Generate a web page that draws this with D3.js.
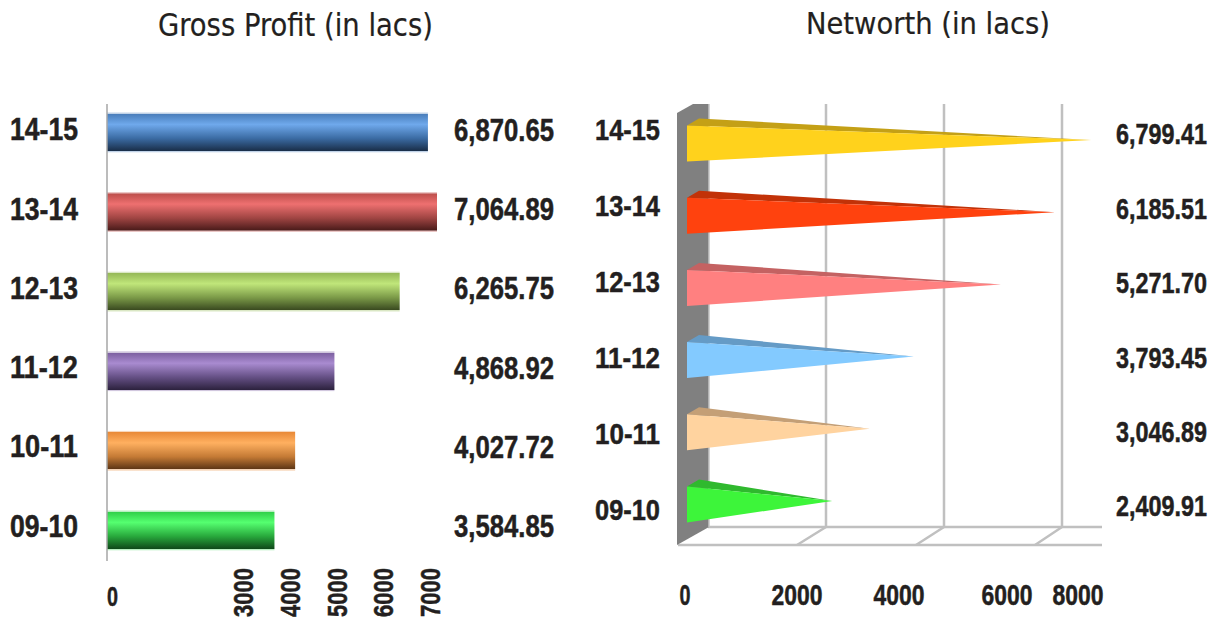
<!DOCTYPE html>
<html>
<head>
<meta charset="utf-8">
<script src="https://cdn.jsdelivr.net/npm/d3@7/dist/d3.min.js"></script>
<style>
  html, body { margin: 0; background: #fff; }
  svg { display: block; }
  .title { font-family: "DejaVu Sans Condensed", "DejaVu Sans", sans-serif; fill: #231f20; stroke: #231f20; stroke-width: 0.2; }
  .lab { font-family: "Liberation Sans Narrow", "Liberation Sans", sans-serif; font-weight: 700; fill: #231f20; stroke: #231f20; stroke-width: 0.5; }
</style>
</head>
<body>
<svg id="chart" width="1219" height="619"></svg>
<script>
// Financial years, listed from the top row down
const years = ["14-15", "13-14", "12-13", "11-12", "10-11", "09-10"];

// Gross profit and net worth, in lacs
const grossProfit = [6870.65, 7064.89, 6265.75, 4868.92, 4027.72, 3584.85];
const networth = [6799.41, 6185.51, 5271.70, 3793.45, 3046.89, 2409.91];

// Axis tick labels
const grossTicks = [0, 3000, 4000, 5000, 6000, 7000];
const netTicks = [0, 2000, 4000, 6000, 8000];

// Cylinder shading of each gross profit bar: edge, light, mid, dark
const barShades = [
  ["#4a7ebb", "#6fa9ec", "#3b6ba3", "#1a2f4a"],
  ["#bd4f4c", "#ee7070", "#a04543", "#4a1b1a"],
  ["#96b957", "#c0e67a", "#7b9a48", "#3a4a20"],
  ["#7c5fa0", "#a98bd0", "#655085", "#2e2340"],
  ["#e98a38", "#ffb060", "#c47a35", "#5c3515"],
  ["#30d04a", "#55ff70", "#28a83c", "#0f4a1a"]
];

// Front and top face colours of each cone
const coneFront = ["#ffd21c", "#ff420e", "#ff8080", "#83caff", "#ffd39f", "#3df53a"];
const coneTop = ["#c4a016", "#c23208", "#c46262", "#659bc6", "#c49f76", "#2fb92e"];

const svg = d3.select("#chart");
const defs = svg.append("defs");
const fmt = d3.format(",.2f");

// Places a text at a point, squeezed horizontally to a fixed width
function fitted(g, cls, x, y, txt, size, width, anchor, angle) {
  const t = g.append("text").attr("class", cls)
    .attr("font-size", size).attr("text-anchor", anchor || "start")
    .text(txt);
  const sx = width / t.node().getComputedTextLength();
  t.attr("transform", `translate(${x},${y}) rotate(${angle || 0}) scale(${sx},1)`);
  return t;
}

// Bold label whose digits are centred vertically on y
function label(g, x, y, txt, size, width, anchor) {
  return fitted(g, "lab", x, y, txt, size, width, anchor).attr("dy", "0.345em");
}

/* ---------- Gross profit: shaded horizontal bars ---------- */
const leftChart = svg.append("g");
const gpX = d3.scaleLinear().domain([0, 7064.89]).range([107, 437]);
const gpY = d3.scaleBand().domain(years).range([92.6, 570.2]).paddingInner(0.5).paddingOuter(0.25);
const gpLabelY = d3.scalePoint().domain(years).range([129.5, 526]);
const gpValueY = d3.scalePoint().domain(years).range([130.5, 526]);

fitted(leftChart, "title", 158, 36, "Gross Profit (in lacs)", 31.5, 275);

barShades.forEach((s, i) => {
  const g = defs.append("linearGradient").attr("id", "bar" + i)
    .attr("x1", 0).attr("y1", 0).attr("x2", 0).attr("y2", 1);
  const rim = d3.interpolateRgb(s[0], "#ffffff")(0.65);
  [[0, rim], [0.03, rim], [0.04, s[0]], [0.3, s[1]], [0.65, s[2]], [0.96, s[3]], [0.97, rim], [1, rim]]
    .forEach(([o, c]) => g.append("stop").attr("offset", o).attr("stop-color", c));
});

leftChart.selectAll("rect.bar").data(grossProfit).join("rect")
  .attr("class", "bar")
  .attr("x", gpX(0))
  .attr("y", (d, i) => gpY(years[i]))
  .attr("width", d => gpX(d) - gpX(0))
  .attr("height", gpY.bandwidth())
  .attr("fill", (d, i) => `url(#bar${i})`);

leftChart.append("line")
  .attr("x1", gpX(0)).attr("x2", gpX(0)).attr("y1", 104).attr("y2", 561)
  .attr("stroke", "#a6a6a6").attr("stroke-width", 1.5);

years.forEach((y, i) => {
  label(leftChart, 10, gpLabelY(y), y, 31, 68);
  label(leftChart, 454, gpValueY(y), fmt(grossProfit[i]), 31, 100);
});

grossTicks.forEach(t => {
  if (t === 0) {
    label(leftChart, gpX(0), 596, "0", 28, 11);
  } else {
    fitted(leftChart, "lab", gpX(t) - 4, 592.5, t, 28, 49, "middle", -90).attr("dy", "0.36em");
  }
});

/* ---------- Networth: 3D cones on a walled plot ---------- */
const rightChart = svg.append("g");
const wallX = d3.scaleLinear().domain([0, 2000]).range([708, 826]);  // back plane
const floorX = d3.scaleLinear().domain([0, 2000]).range([678, 797]); // front floor edge
const tipShift = -18;                                                // cone tips sit mid-depth
const coneY = d3.scalePoint().domain(years).range([143.5, 504.5]);
const netLabelY = d3.scalePoint().domain(years).range([130, 510]);
const netValueY = d3.scalePoint().domain(years).range([134, 506]);
const netTickX = d3.scaleLinear().domain(netTicks).range([685, 797, 899, 1007, 1078]);

const wallTop = 104, floorBack = 527, floorFront = 545, floorEnd = 1102;

fitted(rightChart, "title", 806, 34, "Networth (in lacs)", 31, 244);

// Gridlines on the back plane and their slants across the floor
const gridVals = [2000, 4000, 6000];
rightChart.selectAll("line.grid").data(gridVals).join("line").attr("class", "grid")
  .attr("x1", wallX).attr("x2", wallX).attr("y1", wallTop).attr("y2", floorBack)
  .attr("stroke", "#c0c0c0").attr("stroke-width", 2.5);
rightChart.selectAll("line.slant").data(gridVals).join("line").attr("class", "slant")
  .attr("x1", wallX).attr("x2", floorX).attr("y1", floorBack).attr("y2", floorFront)
  .attr("stroke", "#c0c0c0").attr("stroke-width", 2.5);
[floorBack, floorFront].forEach(y => rightChart.append("line")
  .attr("x1", y === floorBack ? wallX(0) : floorX(0)).attr("x2", floorEnd)
  .attr("y1", y).attr("y2", y)
  .attr("stroke", "#c0c0c0").attr("stroke-width", 2.5));

// Side wall
const lx = floorX(0) - 1, rx = wallX(0) + 1;
rightChart.append("path")
  .attr("d", `M${lx},113L${lx + 16},${wallTop}L${rx},${wallTop}L${rx},${floorBack}L${lx},${floorFront}Z`)
  .attr("fill", "#808080");
rightChart.append("line").attr("x1", rx).attr("x2", rx).attr("y1", wallTop).attr("y2", floorBack)
  .attr("stroke", "#c4c4c4").attr("stroke-width", 1.5);

// Cones: a dark top face behind a bright front face
const baseX = 687, halfH = 18, tipRise = 3.5, topDx = 12, topDy = 7;
const tipOf = d => wallX(d) + tipShift;
rightChart.selectAll("path.coneTop").data(networth).join("path").attr("class", "coneTop")
  .attr("fill", (d, i) => coneTop[i])
  .attr("d", (d, i) => {
    const c = coneY(years[i]);
    return `M${baseX},${c - halfH}L${baseX + topDx},${c - halfH - topDy}L${tipOf(d)},${c - tipRise}Z`;
  });
rightChart.selectAll("path.coneFront").data(networth).join("path").attr("class", "coneFront")
  .attr("fill", (d, i) => coneFront[i])
  .attr("d", (d, i) => {
    const c = coneY(years[i]);
    return `M${baseX},${c - halfH}L${baseX},${c + halfH}L${tipOf(d)},${c - tipRise}Z`;
  });

years.forEach((y, i) => {
  label(rightChart, 595, netLabelY(y), y, 30, 65);
  label(rightChart, 1116, netValueY(y), fmt(networth[i]), 30, 91);
});

netTicks.forEach(t => {
  const w = t === 0 ? 11 : 51;
  label(rightChart, netTickX(t), 595, t, 29, w, "middle");
});
</script>
</body>
</html>
